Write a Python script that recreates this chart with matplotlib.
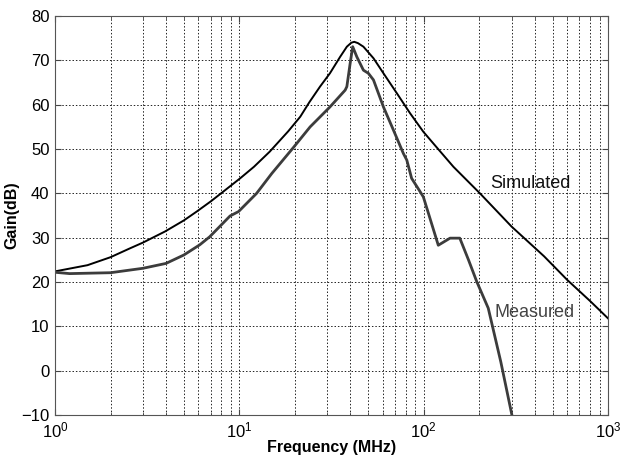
import matplotlib
matplotlib.use('Agg')
import matplotlib.pyplot as plt
import numpy as np

plt.rcParams['font.family'] = ['Liberation Sans', 'DejaVu Sans']
plt.rcParams['mathtext.default'] = 'regular'

# simulated response
sim_freq = [1, 1.5, 2, 2.55, 3, 3.95, 5, 5.87, 7, 8.18, 10.1, 12, 14.6, 18.4, 21.4,
            24, 27.4, 31, 35.2, 38.3, 40.5, 42, 44, 47.1, 53.4, 60.5, 71.5, 84.3,
            99.6, 117, 145, 202, 300, 450, 600, 800, 1000]
sim_gain = [22.4, 23.8, 25.6, 27.6, 28.9, 31.4, 33.9, 35.9, 38.2, 40.4, 43.4, 46.0,
            49.4, 54.0, 57.3, 60.6, 64.1, 67.1, 70.8, 73.1, 74.0, 74.2, 73.9, 73.1,
            70.5, 67.1, 62.6, 58.1, 53.9, 50.5, 46.0, 40.0, 32.5, 25.8, 20.5, 15.7,
            11.8]

# measured response
meas_freq = [1, 1.2, 2, 3, 4, 5, 6.1, 6.9, 8.9, 9.9, 12.4, 15, 19.6, 24.2, 31,
             37.5, 38.3, 39.9, 41.2, 43.4, 47.1, 50.1, 53.4, 60.5, 68.5, 77.6, 81,
             86, 95.6, 99.6, 120, 139, 157, 175, 194, 224, 262, 301]
meas_gain = [22.2, 21.9, 22.1, 23.1, 24.2, 26.1, 28.4, 30.2, 34.9, 35.9, 40.0, 44.5,
             50.3, 55.0, 59.5, 63.3, 64.1, 69.3, 73.1, 70.8, 67.8, 67.1, 65.6, 59.5,
             54.3, 49.0, 47.5, 43.4, 40.4, 39.2, 28.3, 29.9, 29.9, 25.0, 20.1, 14.1,
             2.0, -10.0]

fig = plt.figure(figsize=(6.21, 4.59), dpi=100)
ax = fig.add_axes([0.0886, 0.0959, 0.8905, 0.869])

ax.semilogx(sim_freq, sim_gain, color='black', lw=1.4)
ax.semilogx(meas_freq, meas_gain, color='#3c3c3c', lw=2.0)

ax.set_xlim(1, 1000)
ax.set_ylim(-10, 80)
ax.set_yticks(np.arange(-10, 81, 10))

ax.grid(True, which='major', color='#222222', linestyle=(0, (1.5, 2)), lw=0.7)
ax.grid(True, which='minor', axis='x', color='#222222', linestyle=(0, (1.5, 2)), lw=0.7)

ax.tick_params(which='both', direction='in', top=True, right=True, labelsize=12,
               colors='#444444', labelcolor='black')
ax.tick_params(which='major', length=4, pad=4)
ax.tick_params(which='minor', length=2)
for s in ax.spines.values():
    s.set_color('#555555')

ax.set_xlabel('Frequency (MHz)', fontsize=11.5, fontweight='bold', labelpad=0)
ax.set_ylabel('Gain(dB)', fontsize=11.5, fontweight='bold', labelpad=1)

ax.text(229, 42.3, 'Simulated', fontsize=13, color='#111111', va='center')
ax.text(241, 13.1, 'Measured', fontsize=13, color='#444444', va='center')

fig.savefig('out.png', dpi=100)
